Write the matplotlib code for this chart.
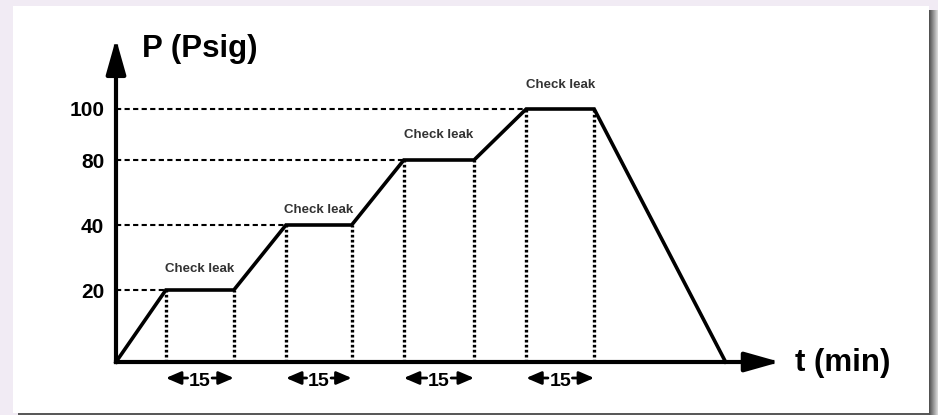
import numpy as np
import matplotlib.pyplot as plt
from matplotlib.patches import Rectangle

plt.rcParams['font.family'] = ['Liberation Sans', 'DejaVu Sans']

# pressure test profile (schematic)
t_min = [0, 11, 26, 37.5, 52, 63.5, 79, 90.5, 105.5, 134.5]
p_psig = [0, 20, 20, 40, 40, 80, 80, 100, 100, 0]
levels = [20, 40, 80, 100]
hold_start = [11, 37.5, 63.5, 90.5]
hold_end = [26, 52, 79, 105.5]
hold_text = "Check leak"
hold_len = "15"

# y axis of the sketch is not to scale -> piecewise scale (value -> height in px)
knot_p = [0, 20, 40, 80, 100, 140]
knot_h = [0, 72, 137, 202, 253, 355]


def fwd(v):
    return np.interp(v, knot_p, knot_h)


def inv(h):
    return np.interp(h, knot_h, knot_p)


W, H = 938, 415
fig = plt.figure(figsize=(W / 100, H / 100), dpi=100, facecolor='#F1EBF4')


def box(x0, y0, x1, y1, color):
    # pixel box, origin top left, kept behind the axes
    fig.add_artist(Rectangle((x0 / W, 1 - y1 / H), (x1 - x0) / W, (y1 - y0) / H,
                             transform=fig.transFigure, color=color, lw=0, zorder=-5))


# white card with a soft shadow
for i in range(9):
    box(929 + i, 10, 930 + i, 415, str(0.32 + 0.065 * i))
box(18, 413, 929, 415, '0.35')
box(13, 6, 929, 413, 'white')

ax = fig.add_axes([116 / W, 53 / H, 664 / W, 320 / H])
ax.set_facecolor('none')
ax.set_yscale('function', functions=(fwd, inv))
ax.set_xlim(0, 146.5)
ax.set_ylim(0, float(inv(320)))
for sp in ax.spines.values():
    sp.set_visible(False)

ax.set_xticks([])
ax.set_yticks(levels)
ax.set_yticklabels([str(v) for v in levels], fontsize=15, fontweight='bold')
ax.tick_params(axis='y', length=0, pad=8.5)

# guide lines
for s, e, lv in zip(hold_start, hold_end, levels):
    ax.plot([0, s], [lv, lv], color='k', lw=1.5, dashes=(2.5, 1.6), clip_on=False)
    ax.vlines([s, e], 0, lv, color='k', lw=2.4, linestyles=[(0, (0.8, 0.7))], clip_on=False)

ax.plot(t_min, p_psig, color='k', lw=2.6, solid_joinstyle='miter', clip_on=False, zorder=3)

# axes arrows
big = dict(arrowstyle='-|>,head_length=0.85,head_width=0.24', mutation_scale=25,
           lw=3, color='k', shrinkA=0, shrinkB=0, capstyle='projecting')
ax.annotate('', xy=(0, 1.01), xytext=(0, 0), xycoords='axes fraction', arrowprops=big)
ax.annotate('', xy=(1, 0), xytext=(0, 0), xycoords='axes fraction', arrowprops=big)

fig.text(142 / W, 1 - 57 / H, 'P (Psig)', fontsize=22.5, fontweight='bold', va='baseline')
fig.text(795 / W, 1 - 371 / H, 't (min)', fontsize=22.5, fontweight='bold', va='baseline')

# hold labels
label_dy = [21, 15, 25, 24]
for s, e, lv, dy in zip(hold_start, hold_end, levels, label_dy):
    ax.annotate(hold_text, xy=((s + e) / 2, lv), xytext=(0, dy * 0.72),
                textcoords='offset points', ha='center', va='center',
                fontsize=9.5, fontweight='bold', color='#333333')

# duration arrows below the axis
trans = ax.get_xaxis_transform()
ya = -16 / 320
small = dict(arrowstyle='-|>,head_length=0.7,head_width=0.3', mutation_scale=13,
             lw=2, color='k', shrinkA=0, shrinkB=0)
for s, e in zip(hold_start, hold_end):
    mid = (s + e) / 2
    ax.text(mid, ya - 0.012, hold_len, transform=trans, ha='center', va='center',
            fontsize=14, fontweight='bold')
    ax.annotate('', xy=(s, ya), xytext=(mid - 2.7, ya), xycoords=trans, arrowprops=small)
    ax.annotate('', xy=(e, ya), xytext=(mid + 2.7, ya), xycoords=trans, arrowprops=small)

fig.savefig('out.png', dpi=100, facecolor=fig.get_facecolor())
